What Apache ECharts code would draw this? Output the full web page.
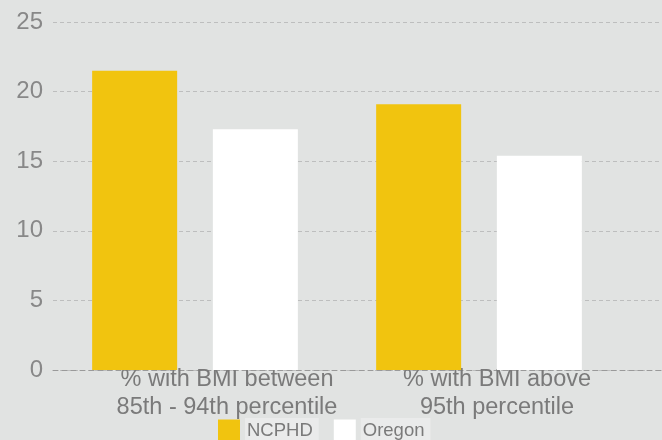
<!DOCTYPE html>
<html>
<head>
<meta charset="utf-8">
<script src="https://cdn.jsdelivr.net/npm/echarts@6/dist/echarts.min.js"></script>
<style>
html,body{margin:0;padding:0;background:#e1e3e2;}
#chart{width:662px;height:440px;}
</style>
</head>
<body>
<div id="chart"></div>
<script>
const categories = ["% with BMI between\n85th - 94th percentile", "% with BMI above\n95th percentile"];
const seriesNames = ["NCPHD", "Oregon"];
const ncphdValues = [21.5, 19.1];
const oregonValues = [17.3, 15.4];
const yTicks = [0, 5, 10, 15, 20, 25];

const font = "'Liberation Sans', Arial, sans-serif";
const chart = echarts.init(document.getElementById('chart'), null, {renderer: 'canvas'});
const gridTop = 22, gridBottom = 70;
chart.setOption({
  backgroundColor: '#e1e3e2',
  animation: false,
  textStyle: {fontFamily: font},
  grid: [
    {left: 53, right: 0, top: gridTop, bottom: gridBottom},
    {left: 53, right: 41, top: gridTop, bottom: gridBottom},
    {left: 92, right: 30, top: gridTop, bottom: gridBottom}
  ],
  legend: {
    data: seriesNames,
    left: 218, top: 418, padding: 0,
    itemWidth: 22, itemHeight: 22, itemGap: 15,
    icon: 'rect',
    textStyle: {fontSize: 18.5, color: '#7a7a7a', fontFamily: font,
      backgroundColor: '#eaebeb', padding: [3, 6, 3, 2]}
  },
  xAxis: [
    {gridIndex: 0, type: 'category', data: categories,
     axisLine: {show: true, lineStyle: {color: '#9a9a9a', type: [5, 4], width: 1}},
     axisTick: {show: false}, axisLabel: {show: false}, splitLine: {show: false}},
    {gridIndex: 1, type: 'category', data: categories, show: false},
    {gridIndex: 2, type: 'category', data: categories,
     axisLine: {show: false}, axisTick: {show: false},
     axisLabel: {show: true, interval: 0, fontSize: 23.5, lineHeight: 28, color: '#7a7a7a', margin: -4, fontFamily: font}}
  ],
  yAxis: [
    {gridIndex: 0, type: 'value', min: yTicks[0], max: yTicks[yTicks.length - 1], interval: 5,
     axisLine: {show: false}, axisTick: {show: false},
     axisLabel: {fontSize: 24, color: '#888888', margin: 10, fontFamily: font, padding: [2, 0, 0, 0]},
     splitLine: {show: true, lineStyle: {color: '#bdbebe', type: [4, 3], width: 1}}},
    {gridIndex: 1, type: 'value', min: 0, max: 25, show: false},
    {gridIndex: 2, type: 'value', min: 0, max: 25, show: false}
  ],
  series: [
    {name: seriesNames[0], type: 'bar', xAxisIndex: 1, yAxisIndex: 1, data: ncphdValues,
     barWidth: 85, barGap: '42%', itemStyle: {color: '#f1c40f'}},
    {name: seriesNames[1], type: 'bar', xAxisIndex: 1, yAxisIndex: 1, data: oregonValues,
     barWidth: 85, barGap: '42%', itemStyle: {color: '#ffffff'}}
  ]
});
</script>
</body>
</html>
